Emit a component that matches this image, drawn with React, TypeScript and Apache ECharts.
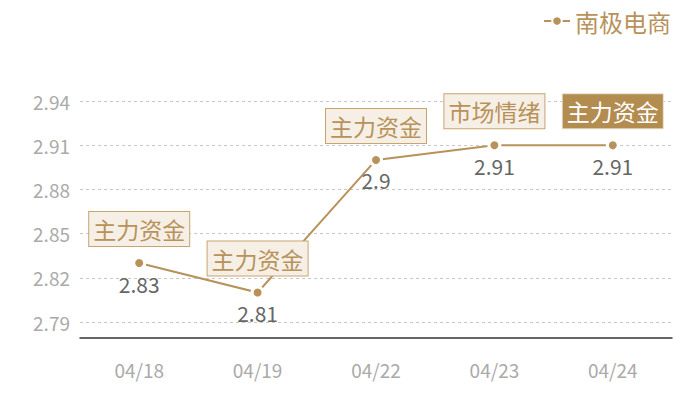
import React, { useEffect, useRef } from 'react';
import * as echarts from 'echarts';

const categories = ['04/18', '04/19', '04/22', '04/23', '04/24'];
const prices = [2.83, 2.81, 2.9, 2.91, 2.91];
const tags = ['主力资金', '主力资金', '主力资金', '市场情绪', '主力资金'];
const highlighted = [false, false, false, false, true];
const seriesName = '南极电商';

const GOLD = '#b8925a';
const FONT = '"Noto Sans CJK SC", "Noto Sans", sans-serif';

const App: React.FC = () => {
  const chartRef = useRef<HTMLDivElement>(null);

  useEffect(() => {
    if (!chartRef.current) return;
    const chart = echarts.init(chartRef.current, undefined, { renderer: 'svg' });

    // tag boxes drawn as labels of an invisible scatter series
    const tagData = prices.map((v, i) => ({
      value: v,
      label: {
        show: true,
        position: 'top',
        distance: 17,
        formatter: tags[i],
        fontSize: 23,
        lineHeight: 26,
        fontFamily: FONT,
        color: highlighted[i] ? '#ffffff' : GOLD,
        backgroundColor: highlighted[i] ? '#b38c50' : '#f5efe6',
        borderColor: highlighted[i] ? '#e8dcc8' : '#c8a46e',
        borderWidth: 1,
        padding: [4, 4, 4, 4],
      },
    }));

    chart.setOption({
      animation: false,
      textStyle: { fontFamily: FONT },
      legend: {
        right: 24,
        top: 4,
        itemWidth: 26,
        itemHeight: 12,
        itemGap: 6,
        data: [seriesName],
        textStyle: { color: GOLD, fontSize: 24, fontFamily: FONT },
      },
      grid: { left: 80, right: 28, top: 101, bottom: 78 },
      xAxis: {
        type: 'category',
        data: categories,
        offset: 16,
        axisLine: { lineStyle: { color: '#333', width: 1.5 } },
        axisTick: { show: false },
        axisLabel: { color: '#aaa', fontSize: 19, margin: 22, fontFamily: FONT },
      },
      yAxis: {
        type: 'value',
        min: 2.79,
        max: 2.94,
        interval: 0.03,
        axisLine: { show: false },
        axisTick: { show: false },
        axisLabel: { color: '#aaa', fontSize: 19, margin: 10, fontFamily: FONT, formatter: (v: number) => v.toFixed(2) },
        splitLine: { lineStyle: { color: '#c8c8c8', type: [3, 3] } },
      },
      series: [
        {
          name: seriesName,
          type: 'line',
          data: prices,
          symbol: 'circle',
          symbolSize: 11,
          showAllSymbol: true,
          lineStyle: { color: GOLD, width: 2 },
          itemStyle: { color: GOLD, borderColor: '#fff', borderWidth: 3 },
          label: {
            show: true,
            position: 'bottom',
            distance: 3,
            color: '#666',
            fontSize: 21,
            fontFamily: FONT,
          },
          z: 3,
        },
        {
          name: 'tags',
          type: 'scatter',
          data: tagData,
          symbolSize: 0,
          itemStyle: { opacity: 1 },
          silent: true,
          z: 4,
        },
      ],
    });

    return () => {
      chart.dispose();
    };
  }, []);

  return <div ref={chartRef} style={{ width: 700, height: 400, margin: -8 }} />;
};

export default App;
